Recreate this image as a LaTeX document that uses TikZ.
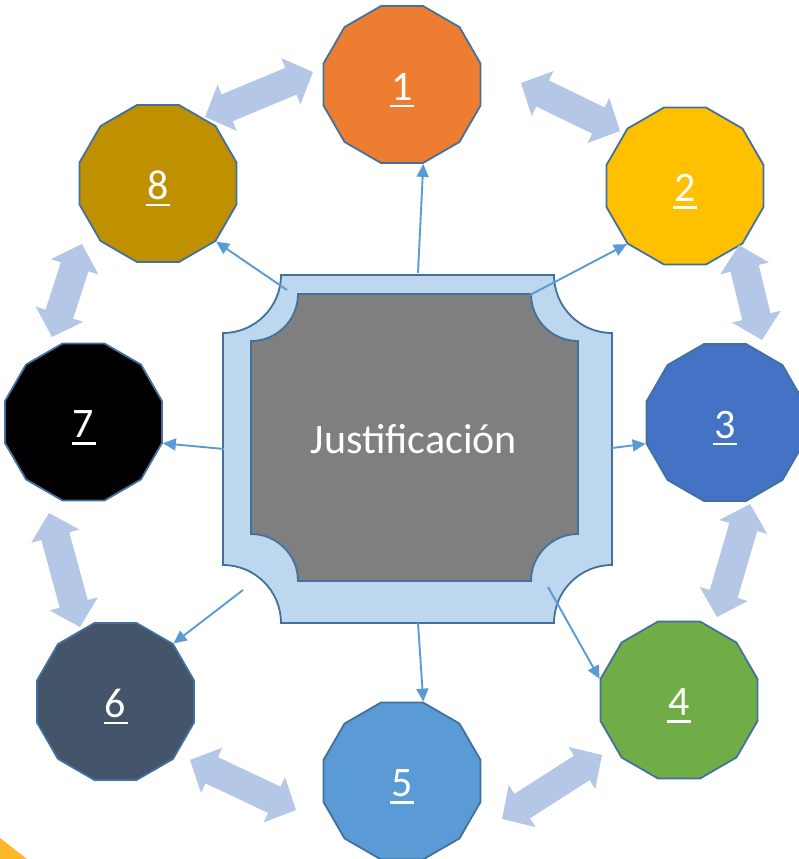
\documentclass[tikz,border=0pt]{standalone}
\usepackage{fontspec}
\setmainfont{Carlito}
\usetikzlibrary{shapes.geometric,arrows.meta,calc}
\definecolor{cOne}{HTML}{ED7D31}
\definecolor{cTwo}{HTML}{FFC000}
\definecolor{cThree}{HTML}{4472C4}
\definecolor{cFour}{HTML}{70AD47}
\definecolor{cFive}{HTML}{5B9BD5}
\definecolor{cSix}{HTML}{44546A}
\definecolor{cSeven}{HTML}{000000}
\definecolor{cEight}{HTML}{BF9000}
\definecolor{bord}{HTML}{41719C}
\definecolor{cline}{HTML}{5B9BD5}
\definecolor{dblc}{HTML}{B4C7E7}
\definecolor{framefill}{HTML}{BDD7EE}
\definecolor{grayfill}{HTML}{7F7F7F}
\definecolor{cornery}{HTML}{FBB829}
\newcommand{\ulnum}[1]{\vtop{\hbox to 24pt{\hss#1\hss}\kern4.5pt\hrule height 2.5pt}}
\newcommand{\ahl}{24pt}
\newcommand{\ahw}{25pt}
\newcommand{\asw}{14.5pt}
\newcommand{\dblarrow}[2]{%
  \coordinate (pa) at ($(#1)!\ahl!(#2)$);
  \coordinate (pb) at ($(#2)!\ahl!(#1)$);
  \fill[dbl] (#1) -- ($(pa)!\ahw!90:(#2)$) -- ($(pa)!\asw!90:(#2)$)
    -- ($(pb)!\asw!-90:(#1)$) -- ($(pb)!\ahw!-90:(#1)$) -- (#2)
    -- ($(pb)!\ahw!90:(#1)$) -- ($(pb)!\asw!90:(#1)$)
    -- ($(pa)!\asw!-90:(#2)$) -- ($(pa)!\ahw!-90:(#2)$) -- cycle;}
\begin{document}
\begin{tikzpicture}[x=1pt,y=-1pt,
  dodec/.style={regular polygon, regular polygon sides=12, minimum size=162.5pt,
    draw=bord, line width=1.8pt, inner sep=0pt, text=white,
    font=\fontsize{42}{50}\selectfont, text height=38pt, text depth=7pt},
  conn/.style={draw=cline, line width=1.9pt, -{Triangle[length=13pt,width=12pt]}},
  dbl/.style={fill=dblc},
  frame/.style={fill=framefill, draw=bord, line width=1.8pt},
  inner/.style={fill=grayfill, draw=bord, line width=1.8pt}]
\useasboundingbox (0,0) rectangle (798,859);
% corner fragment
\fill[cornery] (0,838) -- (27,859) -- (0,859) -- cycle;
% central plaque
\filldraw[frame] (281,275) -- (554,275) arc[start angle=180,end angle=90,radius=58]
  -- (612,565) arc[start angle=270,end angle=180,radius=58]
  -- (281,623) arc[start angle=0,end angle=-90,radius=58]
  -- (223,333) arc[start angle=90,end angle=0,radius=58] -- cycle;
\filldraw[inner] (298,294) -- (531,294) arc[start angle=180,end angle=90,radius=47]
  -- (578,534) arc[start angle=270,end angle=180,radius=47]
  -- (298,581) arc[start angle=0,end angle=-90,radius=47]
  -- (251,341) arc[start angle=90,end angle=0,radius=47] -- cycle;
\node[text=white, font=\fontsize{42}{50}\selectfont, anchor=base, inner sep=0pt] (jus) at (414,453) {Justificación};
% outer nodes
\node[dodec, fill=cOne]   (n1) at (402,84.5)  {\ulnum{1}};
\node[dodec, fill=cTwo]   (n2) at (685,186)   {\ulnum{2}};
\node[dodec, fill=cThree] (n3) at (725,422.5) {\ulnum{3}};
\node[dodec, fill=cFour]  (n4) at (679,700)   {\ulnum{4}};
\node[dodec, fill=cFive]  (n5) at (402,781)   {\ulnum{5}};
\node[dodec, fill=cSix]   (n6) at (115.5,701.5) {\ulnum{6}};
\node[dodec, fill=cSeven] (n7) at (83.5,422)  {\ulnum{7}};
\node[dodec, fill=cEight] (n8) at (158,183.5) {\ulnum{8}};
% double arrow tips
\coordinate (t81a) at (205,117);  \coordinate (t81b) at (313,72);
\coordinate (t12a) at (521,83);   \coordinate (t12b) at (620,131);
\coordinate (t23a) at (739,245);  \coordinate (t23b) at (762,340);
\coordinate (t34a) at (750,504);  \coordinate (t34b) at (717,617);
\coordinate (t45a) at (602,755);  \coordinate (t45b) at (502,819);
\coordinate (t56a) at (296,810);  \coordinate (t56b) at (190,760);
\coordinate (t67a) at (80,627);   \coordinate (t67b) at (49,513);
\coordinate (t78a) at (52,337);   \coordinate (t78b) at (82,244);
\dblarrow{t81a}{t81b}
\dblarrow{t12a}{t12b}
\dblarrow{t23a}{t23b}
\dblarrow{t34a}{t34b}
\dblarrow{t45a}{t45b}
\dblarrow{t56a}{t56b}
\dblarrow{t67a}{t67b}
\dblarrow{t78a}{t78b}
% connector starts
\coordinate (s1) at (418,273);
\coordinate (s2) at (530,295);
\coordinate (s3) at (612,448);
\coordinate (s4) at (548,587);
\coordinate (s5) at (418,623);
\coordinate (s6) at (243,590);
\coordinate (s7) at (224,449);
\coordinate (s8) at (287,290);
\draw[conn] (s1) -- (n1.corner 8);
\draw[conn] (s2) -- (n2.corner 6);
\draw[conn] (s3) -- (n3.corner 5);
\draw[conn] (s4) -- (n4.corner 4);
\draw[conn] (s5) -- (n5.corner 1);
\draw[conn] (s6) -- (n6.corner 12);
\draw[conn] (s7) -- (n7.corner 10);
\draw[conn] (s8) -- (n8.corner 9);
\end{tikzpicture}
\end{document}
